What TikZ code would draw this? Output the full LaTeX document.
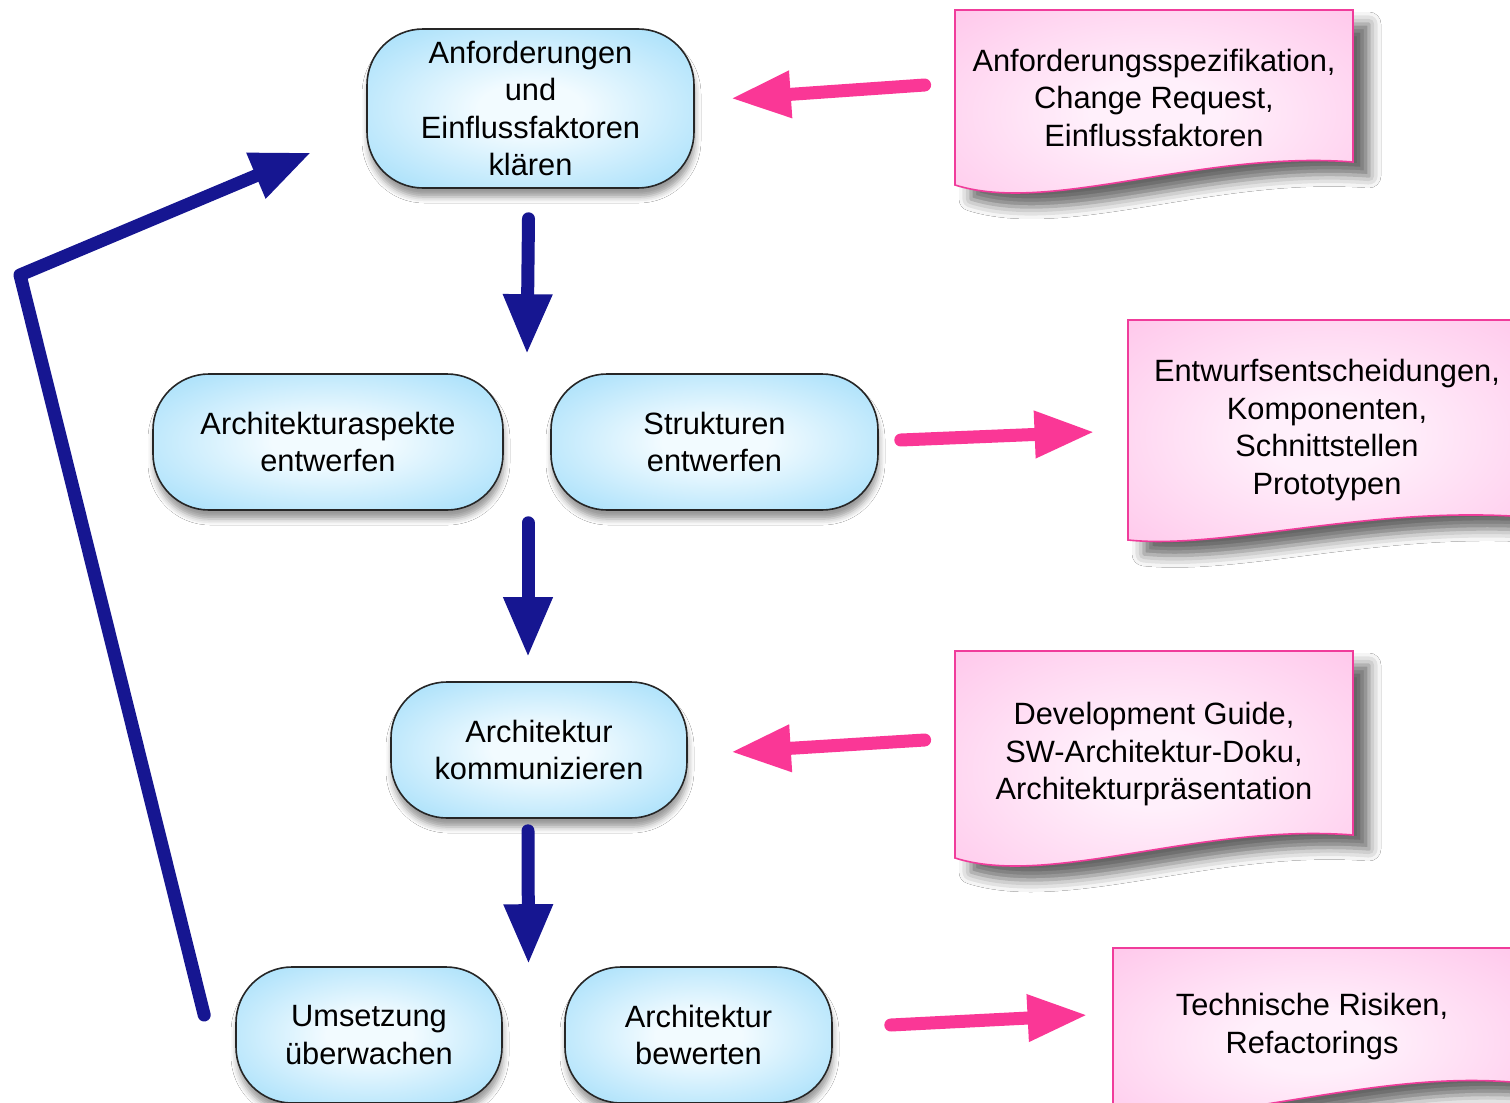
\documentclass[tikz,border=0pt]{standalone}
\usepackage{fontspec}
\setmainfont{Liberation Sans}
\usetikzlibrary{arrows.meta,calc,shadows.blur}
\definecolor{nodeIn}{RGB}{242,251,255}
\definecolor{nodeOut}{RGB}{130,210,248}
\definecolor{docIn}{RGB}{255,240,251}
\definecolor{docOut}{RGB}{255,182,228}
\definecolor{docLine}{RGB}{240,60,155}
\definecolor{navy}{RGB}{22,22,145}
\definecolor{hotpink}{RGB}{250,55,150}
\pgfdeclareradialshading{nodeglow}{\pgfpoint{0bp}{0bp}}{color(0bp)=(nodeIn); color(8bp)=(nodeIn); color(46bp)=(nodeOut); color(50bp)=(nodeOut)}
\pgfdeclareradialshading{docglow}{\pgfpoint{0bp}{0bp}}{color(0bp)=(docIn); color(8bp)=(docIn); color(48bp)=(docOut); color(50bp)=(docOut)}
\begin{document}
\begin{tikzpicture}[x=0.5pt,y=-0.5pt,
  txt/.style={font=\fontsize{15.4}{18.75}\selectfont},
  procbox/.style={txt, draw=black!85, line width=0.8pt, rounded corners=28pt, shade, shading=nodeglow,
    inner sep=0pt, align=center,
    blur shadow={shadow xshift=0.5pt, shadow yshift=-4.5pt, shadow blur radius=3pt, shadow opacity=40}},
  docshape/.style={draw=docLine, line width=0.8pt, shade, shading=docglow,
    blur shadow={shadow xshift=8pt, shadow yshift=-7pt, shadow blur radius=6pt, shadow opacity=60}},
  doctext/.style={txt, inner sep=0pt, align=center, minimum width=199pt},
  flowarrow/.style={draw=navy, line width=6.5pt, line cap=round, -{Triangle[length=30pt,width=23pt]}},
  docarrow/.style={draw=hotpink, line width=6.5pt, line cap=round, -{Triangle[length=30pt,width=22pt]}}]
\useasboundingbox (0,0) rectangle (1510,1103);
\clip (0,0) rectangle (1510,1103);
\fill[white] (0,0) rectangle (1510,1103);

% documents
\path[docshape] (955,10) -- (1353,10) -- (1353,162) .. controls (1200,150) and (1050,215) .. (955,185) -- cycle;
\path[docshape] (1128,320) -- (1526,320) -- (1526,517) .. controls (1371,505) and (1223,550) .. (1128,540) -- cycle;
\path[docshape] (955,651) -- (1353,651) -- (1353,835) .. controls (1200,823) and (1050,888) .. (955,858) -- cycle;
\path[docshape] (1113,948) -- (1511,948) -- (1511,1082) .. controls (1358,1070) and (1208,1135) .. (1113,1105) -- cycle;

\node[doctext, minimum height=87.5pt] (d1) at (1154,97.5) {Anforderungsspezifikation,\\Change Request,\\Einflussfaktoren};
\node[doctext, minimum height=110pt] (d2) at (1327,430) {Entwurfsentscheidungen,\\Komponenten,\\Schnittstellen\\Prototypen};
\node[doctext, minimum height=103.5pt] (d3) at (1154,754.5) {Development Guide,\\SW-Architektur-Doku,\\Architekturpräsentation};
\node[doctext, minimum height=78.5pt] (d4) at (1312,1026.5) {Technische Risiken,\\Refactorings};

% process nodes
\node[procbox, minimum width=163.5pt, minimum height=79.5pt] (top) at (530.5,108.5) {Anforderungen\\und\\Einflussfaktoren\\klären};
\node[procbox, minimum width=175pt, minimum height=68pt] (arch) at (328,442) {Architekturaspekte\\entwerfen};
\node[procbox, minimum width=163.5pt, minimum height=68pt] (struct) at (714.5,442) {Strukturen\\entwerfen};
\node[procbox, minimum width=148pt, minimum height=68pt] (comm) at (539,750) {Architektur\\kommunizieren};
\node[procbox, minimum width=133pt, minimum height=68pt] (ueber) at (369,1035) {Umsetzung\\überwachen};
\node[procbox, minimum width=133.5pt, minimum height=68pt] (bew) at (698.5,1035) {Architektur\\bewerten};

% flow arrows
\coordinate (gapA) at ($(arch.north east)!0.5!(struct.north west)$);
\coordinate (gapB) at ($(arch.south east)!0.5!(struct.south west)$);
\coordinate (gapC) at ($(ueber.north east)!0.5!(bew.north west)$);
\draw[flowarrow] ($(top.south)+(-2,30)$) -- ($(gapA)+(0,-19)$);
\draw[flowarrow] ($(gapB)+(1,12)$) -- ($(comm.north)+(-11,-24)$);
\draw[flowarrow] ($(comm.south)+(-11,12)$) -- ($(gapC)+(-5,-2)$);

% feedback arrow
\coordinate (bend) at (20,275);
\draw[flowarrow, line join=round] ($(ueber.west)+(-31,-20)$) -- (bend) -- ($(top.west)+(-55,44)$);

% document arrows
\draw[docarrow] ($(d1.west)+(-30,-12.5)$) -- ($(top.east)+(36,-10)$);
\draw[docarrow] ($(struct.east)+(22,-2)$) -- ($(d2.west)+(-33,2)$);
\draw[docarrow] ($(d3.west)+(-30,-14.5)$) -- ($(comm.east)+(43,2)$);
\draw[docarrow] ($(bew.east)+(58,-10)$) -- ($(d4.west)+(-25,-11.5)$);
\end{tikzpicture}
\end{document}
